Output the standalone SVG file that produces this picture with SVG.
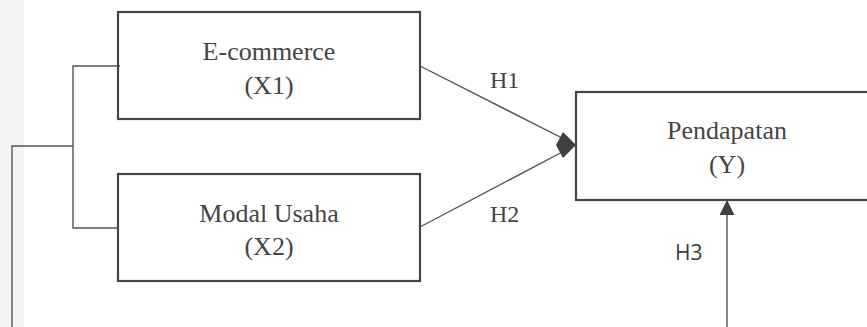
<svg xmlns="http://www.w3.org/2000/svg" width="867" height="327" viewBox="0 0 867 327">
  <style>
    .box { fill: none; stroke: #454545; stroke-width: 2.2; }
    .lbl { font-family: "Liberation Serif", "Times New Roman", serif; font-size: 26px; fill: #454545; text-anchor: middle; }
    .h { font-family: "Liberation Serif", "Times New Roman", serif; font-size: 24px; fill: #454545; }
    .hs { font-family: "Open Sans", "Liberation Sans", sans-serif; font-size: 21px; fill: #3a3a3a; }
    .wire { fill: none; stroke: #555555; stroke-width: 1.4; }
    .head { fill: #404040; stroke: none; }
  </style>
  <defs>
    <marker id="arr3" viewBox="0 0 15 15" refX="15" refY="7.5" markerWidth="15" markerHeight="15" markerUnits="userSpaceOnUse" orient="auto">
      <path d="M0,0 L15,7.5 L0,15 Z" class="head"/>
    </marker>
  </defs>
  <rect x="0" y="0" width="867" height="327" fill="#ffffff"/>
  <rect x="0" y="0" width="24" height="327" fill="#f4f4f4"/>

  <g id="connectors">
    <polyline class="wire" points="120,66 73,66 73,228 118,228"/>
    <polyline class="wire" points="73,146 12,146 12,327"/>
    <line class="wire" x1="420" y1="66" x2="566" y2="140"/>
    <line class="wire" x1="420" y1="227" x2="566" y2="150"/>
    <polygon class="head" points="576,145 563,132 556,145 563,158"/>
    <line class="wire" x1="727" y1="327" x2="727" y2="200" marker-end="url(#arr3)"/>
    <text class="h" x="490" y="88">H1</text>
    <text class="h" x="490" y="222">H2</text>
    <text class="hs" x="675" y="260">H3</text>
  </g>

  <g id="node-x1">
    <rect class="box" x="118" y="12" width="302" height="107"/>
    <text class="lbl" x="269" y="60">E-commerce</text>
    <text class="lbl" x="269" y="94">(X1)</text>
  </g>

  <g id="node-x2">
    <rect class="box" x="118" y="174" width="302" height="107"/>
    <text class="lbl" x="269" y="222">Modal Usaha</text>
    <text class="lbl" x="269" y="255">(X2)</text>
  </g>

  <g id="node-y">
    <rect class="box" x="576" y="92" width="310" height="108"/>
    <text class="lbl" x="727" y="139">Pendapatan</text>
    <text class="lbl" x="727" y="173">(Y)</text>
  </g>
</svg>
